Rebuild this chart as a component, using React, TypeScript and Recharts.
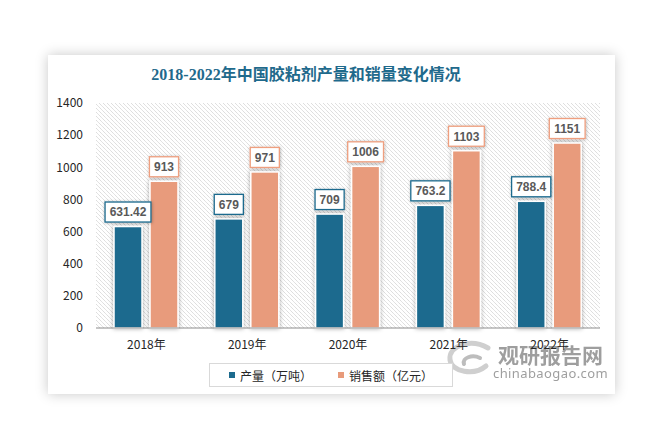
import React from 'react';
import { BarChart, Bar, XAxis, YAxis, CartesianGrid, LabelList, Legend } from 'recharts';

const years = ['2018年', '2019年', '2020年', '2021年', '2022年'];
const outputValues = [631.42, 679, 709, 763.2, 788.4];
const salesValues = [913, 971, 1006, 1103, 1151];
const yTicks = [0, 200, 400, 600, 800, 1000, 1200, 1400];
const seriesNames = ['产量（万吨）', '销售额（亿元）'];
const title = '2018-2022年中国胶粘剂产量和销量变化情况';

const BLUE = '#1d6b8e';
const ORANGE = '#e89b7b';
const ORANGE_BORDER = '#ef9f7f';

const data = years.map((y, i) => ({ year: y, output: outputValues[i], sales: salesValues[i] }));

const BarShape = (props: any) => {
  const { x, y, width, height, fill } = props;
  if (height == null || height <= 0) return null;
  return (
    <rect x={x} y={y} width={width} height={height} fill={fill} stroke="#fff" strokeWidth={1.5} filter="url(#barShadow)" />
  );
};

const textWidth = (s: string) => {
  let w = 0;
  for (const c of s) w += c === '.' ? 3.4 : 6.7;
  return w;
};

const makeLabel = (color: string) => (props: any) => {
  const { x, y, width, value } = props;
  const s = String(value);
  const w = textWidth(s) + 9;
  const h = 20;
  const cx = x + width / 2;
  const by = y - 4.5 - h;
  return (
    <g>
      <rect x={cx - w / 2} y={by} width={w} height={h} fill="#fff" stroke={color} strokeWidth={1.3} filter="url(#labelShadow)" />
      <text x={cx} y={by + h / 2} dy="0.36em" textAnchor="middle" fontFamily="'Liberation Sans', Arial, sans-serif" fontWeight="bold" fontSize={12} fill="#595959">
        {s}
      </text>
    </g>
  );
};

const LegendContent = (props: any) => {
  const items = props.payload || [];
  return (
    <div style={{ boxSizing: 'border-box', width: 244, height: 24, border: '1.5px solid #d9d9d9', background: '#fff', display: 'flex', alignItems: 'center', justifyContent: 'center', gap: 26, fontFamily: "'Noto Sans CJK SC', sans-serif", fontSize: 12, color: '#262626' }}>
      {items.map((it: any) => (
        <div key={it.value} style={{ display: 'flex', alignItems: 'center' }}>
          <span style={{ display: 'inline-block', width: 6, height: 6, background: it.color, marginRight: 5 }} />
          <span>{it.value}</span>
        </div>
      ))}
    </div>
  );
};

export default function App() {
  return (
    <div style={{ position: 'absolute', left: 0, top: 0, width: 662, height: 442, background: '#fff', overflow: 'hidden' }}>
      <div style={{ position: 'absolute', left: 48, top: 55, width: 567, height: 339, background: '#fff', boxShadow: '0 0 12px rgba(0,0,0,0.22)' }} />
      <div style={{ position: 'absolute', left: 0, top: 64, width: 612, textAlign: 'center', fontFamily: "'Liberation Serif', 'Noto Sans CJK SC', serif", fontWeight: 'bold', fontSize: 16, color: '#1f6a8c', lineHeight: '22px' }}>
        {title}
      </div>
      <svg style={{ position: 'absolute', left: 440, top: 336 }} width={180} height={50}>
        <g fill="none" stroke="#cfcfcf" strokeWidth={5} strokeLinecap="round">
          <path d="M 48 12 C 30 2, 8 10, 10 24 C 12 36, 34 40, 46 30" />
          <path d="M 40 22 C 32 18, 22 22, 24 28" stroke="#bdbdbd" strokeWidth={4} />
        </g>
        <text x={58} y={27} fontFamily="'Noto Sans CJK SC', sans-serif" fontWeight="bold" fontSize={21} fill="#8e8e8e" opacity={0.85}>观研报告网</text>
        <text x={53} y={42} fontFamily="'Noto Sans', sans-serif" fontSize={13} fill="#8e8e8e" opacity={0.85} letterSpacing={0.4}>chinabaogao.com</text>
      </svg>
      <div style={{ position: 'absolute', left: 0, top: 0 }}>
        <BarChart
          width={662}
          height={442}
          data={data}
          margin={{ top: 103, right: 62, bottom: 60, left: 46 }}
          barSize={28}
          barGap={8}
        >
          <defs>
            <pattern id="hatch" patternUnits="userSpaceOnUse" width={4} height={4}>
              <path d="M -1 -1 L 1 1 M 0 0 L 4 4 M 3 3 L 5 5" stroke="#dcdcdc" strokeWidth={0.8} />
            </pattern>
            <filter id="barShadow" x="-40%" y="-20%" width="180%" height="140%">
              <feDropShadow dx={0} dy={0} stdDeviation={2.2} floodColor="#000" floodOpacity={0.35} />
            </filter>
            <filter id="labelShadow" x="-30%" y="-40%" width="160%" height="180%">
              <feDropShadow dx={0.5} dy={0.5} stdDeviation={1.5} floodColor="#000" floodOpacity={0.3} />
            </filter>
          </defs>
          <CartesianGrid horizontal={false} vertical={false} fill="url(#hatch)" />
          <XAxis
            dataKey="year"
            tickLine={false}
            tickSize={0}
            tickMargin={12}
            axisLine={{ stroke: '#8c8c8c', strokeWidth: 1 }}
            tick={{ fill: '#262626', fontSize: 12, fontFamily: "'Noto Sans CJK SC', sans-serif" }}
            height={30}
          />
          <YAxis
            domain={[0, 1400]}
            ticks={yTicks}
            axisLine={false}
            tickLine={false}
            tickSize={0}
            tickMargin={13}
            width={50}
            tick={{ fill: '#262626', fontSize: 12, fontFamily: "'Noto Sans CJK SC', sans-serif" }}
          />
          <Legend
            content={<LegendContent />}
            wrapperStyle={{ position: 'absolute', left: 209, top: 363, width: 244, height: 24 }}
          />
          <Bar dataKey="output" name={seriesNames[0]} fill={BLUE} shape={<BarShape />} isAnimationActive={false}>
            <LabelList dataKey="output" content={makeLabel(BLUE)} />
          </Bar>
          <Bar dataKey="sales" name={seriesNames[1]} fill={ORANGE} shape={<BarShape />} isAnimationActive={false}>
            <LabelList dataKey="sales" content={makeLabel(ORANGE_BORDER)} />
          </Bar>
        </BarChart>
      </div>
    </div>
  );
}
